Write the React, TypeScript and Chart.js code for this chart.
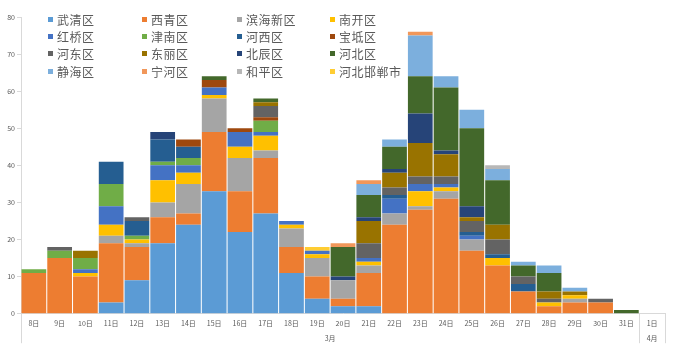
import React, { useEffect, useRef } from "react";
import { Chart, registerables } from "chart.js";

Chart.register(...registerables);

const categories = [
  "8日", "9日", "10日", "11日", "12日", "13日", "14日", "15日", "16日", "17日",
  "18日", "19日", "20日", "21日", "22日", "23日", "24日", "25日", "26日", "27日",
  "28日", "29日", "30日", "31日", "1日",
];
const monthLabels = ["3月", "4月"];
const monthSpans = [24, 1];

const yTicks = [0, 10, 20, 30, 40, 50, 60, 70, 80];

const seriesNames = [
  "武清区", "西青区", "滨海新区", "南开区",
  "红桥区", "津南区", "河西区", "宝坻区",
  "河东区", "东丽区", "北辰区", "河北区",
  "静海区", "宁河区", "和平区", "河北邯郸市",
];
const seriesColors = [
  "#5B9BD5", "#ED7D31", "#A5A5A5", "#FFC000",
  "#4472C4", "#70AD47", "#255E91", "#9E480E",
  "#636363", "#997300", "#264478", "#43682B",
  "#7CAFDD", "#F1975A", "#B7B7B7", "#FFCD33",
];

const wuqing = [0, 0, 0, 3, 9, 19, 24, 33, 22, 27, 11, 4, 2, 2, 0, 0, 0, 0, 0, 0, 0, 0, 0, 0, 0];
const xiqing = [11, 15, 10, 16, 9, 7, 3, 16, 11, 15, 7, 6, 2, 9, 24, 28, 31, 17, 13, 6, 2, 3, 3, 0, 0];
const binhai = [0, 0, 0, 2, 1, 4, 8, 9, 9, 2, 5, 5, 5, 2, 3, 1, 2, 3, 0, 0, 0, 1, 0, 0, 0];
const nankai = [0, 0, 1, 3, 1, 6, 3, 1, 3, 4, 1, 1, 0, 1, 0, 4, 1, 0, 2, 0, 1, 1, 0, 0, 0];
const hongqiao = [0, 0, 1, 5, 0, 4, 2, 2, 4, 1, 1, 1, 0, 1, 4, 2, 1, 1, 0, 0, 0, 0, 0, 0, 0];
const jinnan = [1, 2, 3, 6, 1, 1, 2, 0, 0, 3, 0, 0, 0, 0, 0, 0, 0, 0, 0, 0, 0, 0, 0, 0, 0];
const hexi = [0, 0, 0, 6, 4, 6, 3, 0, 0, 0, 0, 0, 0, 0, 1, 0, 0, 1, 1, 2, 0, 0, 0, 0, 0];
const baodi = [0, 0, 0, 0, 0, 0, 2, 2, 1, 1, 0, 0, 0, 0, 0, 0, 0, 0, 0, 0, 0, 0, 0, 0, 0];
const hedong = [0, 1, 0, 0, 1, 0, 0, 0, 0, 3, 0, 0, 0, 4, 2, 2, 2, 3, 4, 2, 1, 0, 1, 0, 0];
const dongli = [0, 0, 2, 0, 0, 0, 0, 0, 0, 1, 0, 0, 0, 6, 4, 9, 6, 1, 4, 0, 2, 1, 0, 0, 0];
const beichen = [0, 0, 0, 0, 0, 2, 0, 0, 0, 0, 0, 0, 1, 1, 1, 8, 1, 3, 0, 0, 0, 0, 0, 0, 0];
const hebei = [0, 0, 0, 0, 0, 0, 0, 1, 0, 1, 0, 0, 8, 6, 6, 10, 17, 21, 12, 3, 5, 0, 0, 1, 0];
const jinghai = [0, 0, 0, 0, 0, 0, 0, 0, 0, 0, 0, 0, 0, 3, 2, 11, 3, 5, 3, 1, 2, 1, 0, 0, 0];
const ninghe = [0, 0, 0, 0, 0, 0, 0, 0, 0, 0, 0, 0, 1, 1, 0, 1, 0, 0, 0, 0, 0, 0, 0, 0, 0];
const heping = [0, 0, 0, 0, 0, 0, 0, 0, 0, 0, 0, 0, 0, 0, 0, 0, 0, 0, 1, 0, 0, 0, 0, 0, 0];
const handan = [0, 0, 0, 0, 0, 0, 0, 0, 0, 0, 0, 1, 0, 0, 0, 0, 0, 0, 0, 0, 0, 0, 0, 0, 0];

const seriesValues = [
  wuqing, xiqing, binhai, nankai, hongqiao, jinnan, hexi, baodi,
  hedong, dongli, beichen, hebei, jinghai, ninghe, heping, handan,
];

const FONT = "'Noto Sans CJK SC', 'Noto Sans', sans-serif";
const TEXT = "#595959";
const LINE = "#D9D9D9";

const monthPlugin = {
  id: "monthRow",
  afterDraw(chart: any) {
    const x = chart.scales.x;
    const ctx = chart.ctx;
    const half = (x.getPixelForValue(1) - x.getPixelForValue(0)) / 2;
    const top = chart.chartArea.bottom;
    const bottom = top + 29.5;
    ctx.save();
    ctx.strokeStyle = LINE;
    ctx.lineWidth = 1;
    ctx.fillStyle = TEXT;
    ctx.font = `7px ${FONT}`;
    ctx.textAlign = "center";
    ctx.textBaseline = "middle";
    let idx = 0;
    const edges: number[] = [];
    monthSpans.forEach((span, i) => {
      const left = x.getPixelForValue(idx) - half;
      const right = x.getPixelForValue(idx + span - 1) + half;
      if (i === 0) edges.push(left);
      edges.push(right);
      ctx.fillText(monthLabels[i], (left + right) / 2, top + 24.5);
      idx += span;
    });
    edges.forEach((e) => {
      const px = Math.round(e) + 0.5;
      ctx.beginPath();
      ctx.moveTo(px, top);
      ctx.lineTo(px, bottom);
      ctx.stroke();
    });
    ctx.restore();
  },
};

export default function App() {
  const ref = useRef<HTMLCanvasElement | null>(null);

  useEffect(() => {
    if (!ref.current) return;
    const chart = new Chart(ref.current, {
      type: "bar",
      data: {
        labels: categories,
        datasets: seriesNames.map((name, i) => ({
          label: name,
          data: seriesValues[i],
          backgroundColor: seriesColors[i],
          borderWidth: 0,
          barPercentage: 0.96,
          categoryPercentage: 1,
        })),
      },
      options: {
        animation: false,
        responsive: true,
        maintainAspectRatio: false,
        layout: { padding: { left: 0, top: 17, right: 12, bottom: 0 } },
        plugins: {
          legend: { display: false },
          tooltip: { enabled: false },
        },
        scales: {
          x: {
            stacked: true,
            grid: { display: false, drawTicks: false },
            border: { display: true, color: LINE, width: 1 },
            ticks: {
              color: TEXT,
              font: { size: 7, family: FONT },
              padding: 5,
              maxRotation: 0,
              autoSkip: false,
            },
            afterFit: (s: any) => {
              s.height = 49.3;
            },
          },
          y: {
            stacked: true,
            min: 0,
            max: 80,
            afterBuildTicks: (s: any) => {
              s.ticks = yTicks.map((v) => ({ value: v }));
            },
            grid: {
              drawOnChartArea: false,
              drawTicks: true,
              tickLength: 4,
              color: LINE,
            },
            border: { display: true, color: LINE, width: 1 },
            ticks: {
              color: TEXT,
              font: { size: 7, family: FONT },
              padding: 2,
            },
            afterFit: (s: any) => {
              s.width = 21;
            },
          },
        },
      },
      plugins: [monthPlugin],
    });
    return () => chart.destroy();
  }, []);

  const colX = [48, 142, 237, 330];
  const rowY = [19, 36.5, 53.5, 71];

  return (
    <div
      style={{
        position: "fixed",
        left: 0,
        top: 0,
        width: 677,
        height: 363,
        background: "#ffffff",
      }}
    >
      <canvas ref={ref} />
      {seriesNames.map((name, i) => {
        const col = i % 4;
        const row = Math.floor(i / 4);
        return (
          <div
            key={name}
            style={{
              position: "absolute",
              left: colX[col],
              top: rowY[row] - 8,
              height: 16,
              display: "flex",
              alignItems: "center",
              fontFamily: FONT,
              fontSize: 12,
              color: TEXT,
              whiteSpace: "nowrap",
              pointerEvents: "none",
            }}
          >
            <span
              style={{
                display: "inline-block",
                width: 5,
                height: 5,
                background: seriesColors[i],
                marginRight: 4,
              }}
            />
            <span style={{ letterSpacing: 0.5 }}>{name}</span>
          </div>
        );
      })}
    </div>
  );
}
